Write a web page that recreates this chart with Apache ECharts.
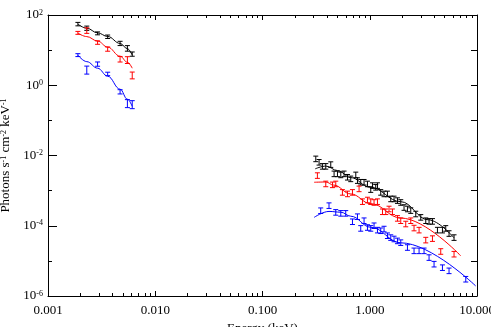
<!DOCTYPE html>
<html>
<head>
<meta charset="utf-8">
<script src="https://cdn.jsdelivr.net/npm/echarts@6/dist/echarts.min.js"></script>
<style>
  html, body { margin: 0; padding: 0; background: #fff; }
  #chart { width: 491px; height: 327px; }
</style>
</head>
<body>
<div id="chart"></div>
<script>
// low energy points (keV)
const lowE = [0.0019, 0.0023, 0.0029, 0.0036, 0.0047, 0.0055, 0.0061]
const blackLow = [55, 42, 30, 24, 15.5, 11.2, 7.7]
const redLow = [31, 36, 16.4, 10.7, 5.5, 5.2, 1.9]
const blueLow = [7.2, 2.7, 4.0, 2.1, 0.65, 0.30, 0.28]
// error bar size as a factor (value / f .. value * f)
const blackLowErr = [1.12, 1.15, 1.1, 1.12, 1.15, 1.2, 1.15]
const redLowErr = [1.1, 1.2, 1.12, 1.15, 1.2, 1.25, 1.25]
const blueLowErr = [1.1, 1.3, 1.15, 1.12, 1.15, 1.3, 1.3]
// model curves, low energy
const blackLowModel = [55, 42, 31, 24.5, 15.5, 11, 7.2]
const redLowModel = [30.6, 24.3, 18.1, 12.2, 6.7, 4.5, 3.06]
const blueLowModel = [7.2, 4.7, 3.06, 1.81, 0.77, 0.40, 0.25]

// high energy points
const blackHiE = [0.314, 0.337, 0.362, 0.389, 0.433, 0.465, 0.50, 0.537, 0.576, 0.62, 0.665, 0.741, 0.768, 0.824, 0.885, 0.952, 1.022, 1.06, 1.137, 1.18, 1.266, 1.359, 1.462, 1.57, 1.685, 1.813, 1.946, 2.088, 2.246, 2.412, 2.685, 2.99, 3.328, 3.572, 3.843, 4.277, 4.763, 5.112, 5.487, 6.109]
const blackHi = [8.0e-3, 6.4e-3, 4.9e-3, 4.9e-3, 5.5e-3, 3.0e-3, 3.0e-3, 2.8e-3, 3.0e-3, 2.4e-3, 2.16e-3, 2.8e-3, 1.93e-3, 1.73e-3, 1.73e-3, 1.55e-3, 1.07e-3, 1.39e-3, 1.24e-3, 1.39e-3, 8.9e-4, 8.05e-4, 8.05e-4, 5.8e-4, 5.8e-4, 5.2e-4, 4.6e-4, 3.3e-4, 3.0e-4, 2.7e-4, 2.16e-4, 1.73e-4, 1.39e-4, 1.33e-4, 1.33e-4, 7.5e-5, 7.5e-5, 8.4e-5, 6.0e-5, 4.6e-5]
const redHiE = [0.325, 0.389, 0.449, 0.482, 0.556, 0.62, 0.69, 0.795, 0.855, 0.952, 1.022, 1.097, 1.18, 1.314, 1.41, 1.513, 1.628, 1.813, 1.946, 2.166, 2.412, 2.588, 2.883, 3.328, 3.843, 4.592, 6.109]
const redHi = [2.68e-3, 1.55e-3, 1.46e-3, 1.55e-3, 8.9e-4, 8.05e-4, 8.9e-4, 1.12e-3, 4.85e-4, 5.4e-4, 4.85e-4, 4.6e-4, 4.85e-4, 2.5e-4, 2.5e-4, 3.0e-4, 2.5e-4, 1.62e-4, 1.39e-4, 1.12e-4, 1.39e-4, 8.6e-5, 7.5e-5, 3.9e-5, 4.3e-5, 1.85e-5, 1.55e-5]
const blueHiE = [0.349, 0.417, 0.482, 0.537, 0.597, 0.69, 0.768, 0.824, 0.885, 0.952, 1.022, 1.097, 1.18, 1.266, 1.359, 1.462, 1.57, 1.685, 1.813, 1.946, 2.246, 2.588, 2.883, 3.209, 3.572, 3.977, 4.763, 5.487, 7.857]
const blueHi = [2.68e-4, 3.73e-4, 2.4e-4, 2.25e-4, 2.25e-4, 1.3e-4, 1.81e-4, 8.4e-5, 1.39e-4, 8.9e-5, 8.4e-5, 1.0e-4, 7.5e-5, 7.2e-5, 8.05e-5, 5.2e-5, 4.6e-5, 4.2e-5, 3.7e-5, 3.3e-5, 2.4e-5, 1.93e-5, 1.93e-5, 1.93e-5, 1.24e-5, 8.05e-6, 6.4e-6, 5.2e-6, 3.0e-6]
const hiErr = 1.2

// model curves, high energy
const blackModelE = [0.31, 0.39, 0.5, 0.665, 1.0, 1.946, 3.5, 6.1]
const blackModel = [4.17e-3, 5.0e-3, 3.73e-3, 2.35e-3, 1.26e-3, 4.85e-4, 1.48e-4, 4.54e-5]
const redModelE = [0.303, 0.39, 0.46, 0.665, 1.022, 1.946, 7.05]
const redModel = [1.73e-3, 1.76e-3, 1.44e-3, 8.05e-4, 4.25e-4, 1.66e-4, 1.39e-5]
const blueModelE = [0.303, 0.417, 0.537, 0.665, 1.022, 1.946, 9.73]
const blueModel = [1.73e-4, 2.56e-4, 2.43e-4, 1.87e-4, 9.06e-5, 3.27e-5, 1.93e-6]

const FONT = 'Liberation Serif'

function errData(xs, ys, err) {
    return xs.map((x, i) => {
        const f = Array.isArray(err) ? err[i] : err
        return [x, ys[i], ys[i] / f, ys[i] * f]
    })
}

function pairs(xs, ys) {
    return xs.map((x, i) => [x, ys[i]])
}

function renderErr(params, api) {
    const x = api.value(0)
    const lo = api.coord([x, api.value(2)])
    const hi = api.coord([x, api.value(3)])
    const color = api.visual('color')
    const style = { stroke: color, lineWidth: 1 }
    const w = 2.5
    return {
        type: 'group',
        children: [
            { type: 'line', shape: { x1: lo[0], y1: lo[1], x2: hi[0], y2: hi[1] }, style },
            { type: 'line', shape: { x1: lo[0] - w, y1: lo[1], x2: lo[0] + w, y2: lo[1] }, style },
            { type: 'line', shape: { x1: hi[0] - w, y1: hi[1], x2: hi[0] + w, y2: hi[1] }, style }
        ]
    }
}

function errSeries(data, color) {
    return {
        type: 'custom',
        renderItem: renderErr,
        itemStyle: { color: color },
        encode: { x: 0, y: [1, 2, 3] },
        data: data,
        silent: true,
        z: 3
    }
}

function lineSeries(data, color) {
    return {
        type: 'line',
        data: data,
        showSymbol: false,
        smooth: 0.4,
        smoothMonotone: 'x',
        lineStyle: { color: color, width: 1 },
        silent: true,
        z: 2
    }
}

const supRich = {
    sup: { fontFamily: FONT, fontSize: 8, lineHeight: 8, verticalAlign: 'top', color: '#000' }
}

const xLabels = { 0.001: '0.001', 0.01: '0.010', 0.1: '0.100', 1: '1.000', 10: '10.000' }

const option = {
    animation: false,
    backgroundColor: '#fff',
    grid: { left: 48, right: 14, top: 15, bottom: 31, outerBoundsMode: 'none' },
    xAxis: [
        {
            type: 'log', min: 0.001, max: 10, position: 'bottom',
            axisLine: { onZero: false, lineStyle: { color: '#000', width: 1 } },
            axisTick: { inside: true, length: 5, lineStyle: { color: '#000' } },
            minorTick: { show: true, splitNumber: 9, length: 3, lineStyle: { color: '#000' } },
            splitLine: { show: false },
            axisLabel: {
                fontFamily: FONT, fontSize: 13, color: '#000', margin: 8,
                formatter: v => xLabels[v] || ''
            },
            name: 'Energy (keV)', nameLocation: 'middle', nameGap: 24,
            nameTextStyle: { fontFamily: FONT, fontSize: 13, color: '#000' }
        },
        {
            type: 'log', min: 0.001, max: 10, position: 'top',
            axisLine: { onZero: false, lineStyle: { color: '#000', width: 1 } },
            axisTick: { inside: true, length: 5, lineStyle: { color: '#000' } },
            minorTick: { show: true, splitNumber: 9, length: 3, lineStyle: { color: '#000' } },
            splitLine: { show: false },
            axisLabel: { show: false }
        }
    ],
    yAxis: [
        {
            type: 'log', min: 1e-6, max: 100, position: 'left',
            axisLine: { onZero: false, lineStyle: { color: '#000', width: 1 } },
            axisTick: { inside: true, length: 4, lineStyle: { color: '#000' } },
            splitLine: { show: false },
            axisLabel: {
                fontFamily: FONT, fontSize: 13, color: '#000', margin: 5,
                rich: supRich,
                formatter: v => {
                    const e = Math.round(Math.log10(v))
                    if (e % 2 !== 0) return ''
                    return '10{sup|' + e + '}'
                }
            },
            name: 'Photons s{sup|-1} cm{sup|-2} keV{sup|-1}',
            nameLocation: 'middle', nameGap: 34,
            nameTextStyle: { fontFamily: FONT, fontSize: 13, color: '#000', rich: supRich }
        },
        {
            // longer ticks at labelled decades
            type: 'value', min: -6, max: 2, interval: 2, position: 'left',
            axisLine: { show: false, onZero: false },
            axisTick: { inside: true, length: 9, lineStyle: { color: '#000' } },
            splitLine: { show: false },
            axisLabel: { show: false }
        },
        {
            type: 'log', min: 1e-6, max: 100, position: 'right',
            axisLine: { onZero: false, lineStyle: { color: '#000', width: 1 } },
            axisTick: { inside: true, length: 6, lineStyle: { color: '#000' } },
            splitLine: { show: false },
            axisLabel: { show: false }
        }
    ],
    series: [
        lineSeries(pairs(lowE, blackLowModel), '#000000'),
        lineSeries(pairs(lowE, redLowModel), '#ff0000'),
        lineSeries(pairs(lowE, blueLowModel), '#0000ff'),
        lineSeries(pairs(blackModelE, blackModel), '#000000'),
        lineSeries(pairs(redModelE, redModel), '#ff0000'),
        lineSeries(pairs(blueModelE, blueModel), '#0000ff'),
        errSeries(errData(lowE, blackLow, blackLowErr), '#000000'),
        errSeries(errData(lowE, redLow, redLowErr), '#ff0000'),
        errSeries(errData(lowE, blueLow, blueLowErr), '#0000ff'),
        errSeries(errData(blackHiE, blackHi, hiErr), '#000000'),
        errSeries(errData(redHiE, redHi, hiErr), '#ff0000'),
        errSeries(errData(blueHiE, blueHi, hiErr), '#0000ff')
    ]
}

const chart = echarts.init(document.getElementById('chart'))
chart.setOption(option)
</script>
</body>
</html>
